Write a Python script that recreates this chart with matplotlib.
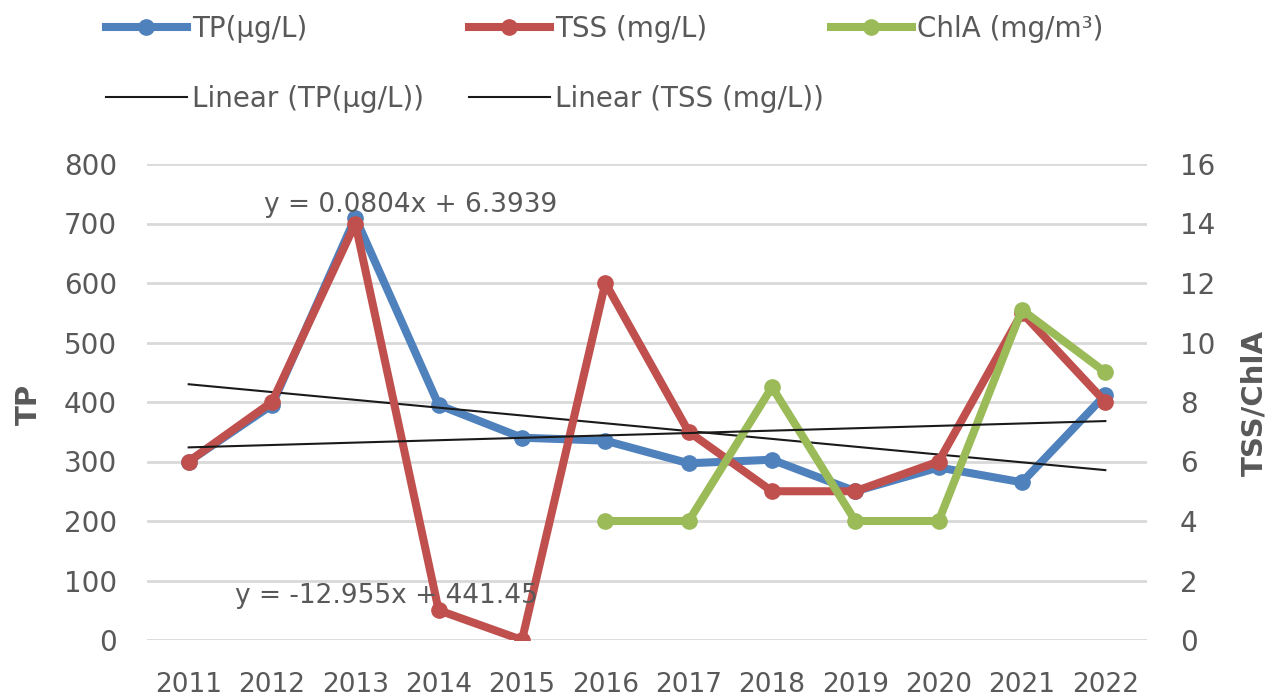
import numpy as np
import matplotlib
matplotlib.use("Agg")
import matplotlib.pyplot as plt
from matplotlib.lines import Line2D

years = ["2011", "2012", "2013", "2014", "2015", "2016", "2017", "2018", "2019", "2020", "2021", "2022"]
tp = [300, 395, 710, 395, 340, 335, 297, 303, 250, 290, 265, 412]
tss = [6, 8, 14, 1, 0, 12, 7, 5, 5, 6, 11, 8]
chla = [np.nan, np.nan, np.nan, np.nan, np.nan, 4, 4, 8.5, 4, 4, 11.1, 9]

tp_eq = "y = -12.955x + 441.45"
tss_eq = "y = 0.0804x + 6.3939"

BLUE = "#4F81BD"
RED = "#C0504D"
GREEN = "#9BBB59"
GRAY = "#595959"
TREND = "#1a1a1a"

plt.rcParams['font.family'] = ['DejaVu Sans']

W, H = 1278, 700
fig = plt.figure(figsize=(W / 100, H / 100), dpi=100)
ax = fig.add_axes([147 / W, 1 - 640 / H, 1000 / W, 476 / H])
ax2 = ax.twinx()

x = np.arange(len(years))
xn = x + 1

ax.set_ylim(0, 800)
ax.set_yticks(np.arange(0, 801, 100))
ax.yaxis.grid(True, color="#D9D9D9", lw=2)
ax.set_axisbelow(True)
ax2.set_ylim(0, 16)
ax2.set_yticks(np.arange(0, 17, 2))
ax.set_xlim(-0.5, len(years) - 0.5)
ax.set_xticks(x)
ax.set_xticklabels(years)

LW, MS = 5.8, 11
ax.plot(x, tp, color=BLUE, lw=LW, marker="o", ms=MS, zorder=3)
ctp = np.polyfit(xn, tp, 1)
ax.plot(x, np.polyval(ctp, xn), color=TREND, lw=1.5, zorder=4)

ax2.plot(x, tss, color=RED, lw=LW, marker="o", ms=MS, zorder=3)
ax2.plot(x, chla, color=GREEN, lw=LW, marker="o", ms=MS, zorder=4)
ctss = np.polyfit(xn, tss, 1)
ax2.plot(x, np.polyval(ctss, xn), color=TREND, lw=1.5, zorder=5)

for a in (ax, ax2):
    for s in a.spines.values():
        s.set_visible(False)
    a.tick_params(length=0, colors=GRAY)
ax.tick_params(axis="x", pad=23, labelsize=19)
ax.tick_params(axis="y", pad=21.5, labelsize=20)
ax2.tick_params(axis="y", pad=23.5, labelsize=20)

ax.set_ylabel("TP", fontsize=21, fontweight="bold", color=GRAY)
ax.yaxis.set_label_coords((43 - 147) / 1000, (640 - 404) / 476)
ax2.set_ylabel("TSS/ChlA", fontsize=21, fontweight="bold", color=GRAY)
ax2.yaxis.set_label_coords((1240 - 147) / 1000, (640 - 403) / 476)

ax2.text((411 - 147) / 1000, (640 - 205) / 476, tss_eq, transform=ax.transAxes, fontsize=19,
         color=GRAY, ha="center", va="center", zorder=10)
ax2.text((386 - 147) / 1000, (640 - 596) / 476, tp_eq, transform=ax.transAxes, fontsize=19,
         color=GRAY, ha="center", va="center", zorder=10)

series_handles = [
    [(Line2D([], [], color=BLUE, lw=LW, marker="o", ms=MS), "TP(µg/L)"),
     (Line2D([], [], color=TREND, lw=1.5), "Linear (TP(µg/L))")],
    [(Line2D([], [], color=RED, lw=LW, marker="o", ms=MS), "TSS (mg/L)"),
     (Line2D([], [], color=TREND, lw=1.5), "Linear (TSS (mg/L))")],
    [(Line2D([], [], color=GREEN, lw=LW, marker="o", ms=MS), "ChlA (mg/m³)")],
]
col_x = [106, 469, 831]
for cx, entries in zip(col_x, series_handles):
    hs = [e[0] for e in entries]
    ls = [e[1] for e in entries]
    leg = fig.legend(hs, ls, loc="upper left", bbox_to_anchor=(cx / W, 1 - 15 / H),
                     frameon=False, fontsize=20, handlelength=2.9, handletextpad=0.2,
                     labelspacing=1.5, borderpad=0, borderaxespad=0)
    for t in leg.get_texts():
        t.set_color(GRAY)

fig.savefig("out.png", dpi=100)
